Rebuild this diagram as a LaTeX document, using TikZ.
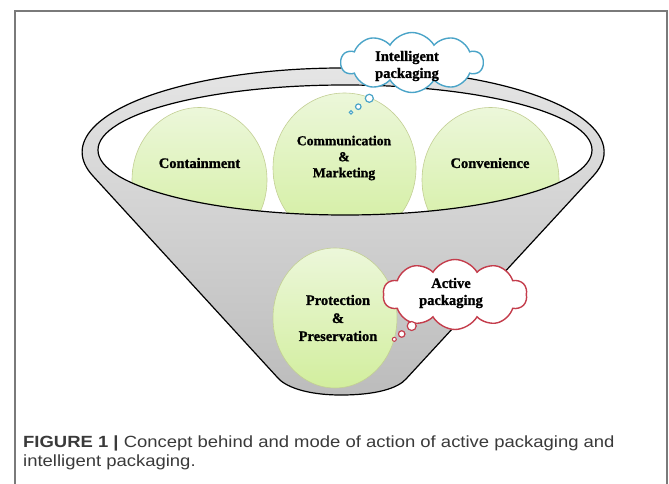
\documentclass[tikz,border=0pt]{standalone}
\usepackage{fontspec}
\setmainfont{Liberation Serif}
\newfontfamily\lblfont{Liberation Serif}[BoldFeatures={FakeBold=1.2}]
\newfontfamily\capfont[FakeStretch=1.14]{Liberation Sans}
\usetikzlibrary{shapes.symbols,shapes.geometric}
\definecolor{framecol}{HTML}{7A7A7A}
\definecolor{rimtop}{HTML}{E6E6E6}
\definecolor{conebot}{HTML}{BCBCBC}
\definecolor{balltop}{HTML}{ECF7DA}
\definecolor{ballbot}{HTML}{D2EE9E}
\definecolor{ballline}{HTML}{C3CF94}
\definecolor{cloudblue}{HTML}{4AA4C8}
\definecolor{cloudred}{HTML}{C43D4C}
\definecolor{captext}{HTML}{3A3A3A}
\tikzset{
  ball/.style={ellipse, draw=ballline, line width=0.6pt, top color=balltop, bottom color=ballbot, inner sep=0},
  lbl/.style={font=\lblfont\bfseries\fontsize{14.5}{17}\selectfont, align=center, inner sep=0},
  thought/.style={cloud, cloud puffs=10, cloud puff arc=120, cloud ignores aspect, fill=white, line width=1.4pt, inner sep=0},
  bubble/.style={circle, fill=white, line width=1.2pt, inner sep=0},
  caption/.style={font=\capfont\fontsize{16.2}{19}\selectfont, text=captext, anchor=base west, inner sep=0},
  rim/.style={draw=black, line width=1.2pt}
}
\begin{document}
\begin{tikzpicture}[x=1pt,y=-1pt]
\useasboundingbox (0,0) rectangle (669,484);
\fill[white] (0,0) rectangle (669,484);
\draw[framecol, line width=1.2pt] (15,484) -- (15,11) -- (667,11) -- (667,484);
% funnel body
\path[rim, top color=rimtop, bottom color=conebot]
  (92.7,175.7) -- (277,377) .. controls (284,386) and (305,395) .. (341,395)
  .. controls (377,395) and (398,388) .. (406,379) -- (593.3,175.9)
  arc[start angle=-16.53, end angle=196.53, x radius=261pt, y radius=84pt] -- cycle;
% opening
\fill[white] (345,150) ellipse [x radius=247pt, y radius=65pt];
\begin{scope}
  \clip (345,150) ellipse [x radius=247pt, y radius=65pt];
  \node[ball, minimum width=135pt, minimum height=145pt] (contB) at (199.5,180) {};
  \node[ball, minimum width=143pt, minimum height=150pt] (commB) at (344.5,168) {};
  \node[ball, minimum width=137pt, minimum height=145pt] (convB) at (490.5,180) {};
\end{scope}
\draw[rim] (345,150) ellipse [x radius=247pt, y radius=65pt];
\node[lbl] (contT) at (199.5,163) {Containment};
\node[lbl, font=\lblfont\bfseries\fontsize{13.7}{16}\selectfont] (commT) at (344,158) {Communication\\\&\\Marketing};
\node[lbl] (convT) at (490,163) {Convenience};
% protection
\node[ball, minimum width=124pt, minimum height=140pt] (protB) at (335,318) {};
\node[lbl, font=\lblfont\bfseries\fontsize{14.5}{18}\selectfont] (protT) at (338,318) {Protection\\\&\\Preservation};
% intelligent packaging cloud
\node[thought, draw=cloudblue, minimum width=142pt, minimum height=60pt] (ipC) at (412,62.5) {};
\node[lbl] (ipT) at (407,66) {Intelligent\\packaging};
\node[bubble, draw=cloudblue, minimum size=8pt] (ib1) at (369.3,98.3) {};
\node[bubble, draw=cloudblue, minimum size=5.5pt] (ib2) at (358.3,106.7) {};
\node[bubble, draw=cloudblue, minimum size=3.5pt, line width=1pt] (ib3) at (351,112.3) {};
% active packaging cloud
\node[thought, draw=cloudred, minimum width=144pt, minimum height=70pt] (apC) at (455,294.5) {};
\node[lbl] (apT) at (451,293) {Active\\packaging};
\node[bubble, draw=cloudred, minimum size=9pt] (ab1) at (411.7,326) {};
\node[bubble, draw=cloudred, minimum size=6.5pt] (ab2) at (401.7,334) {};
\node[bubble, draw=cloudred, minimum size=4pt, line width=1pt] (ab3) at (394.3,339.3) {};
% caption
\node[caption] (cap1) at (23,447.7) {\textbf{FIGURE 1 |} Concept behind and mode of action of active packaging and};
\node[caption] (cap2) at (23,466.7) {intelligent packaging.};
\end{tikzpicture}
\end{document}
